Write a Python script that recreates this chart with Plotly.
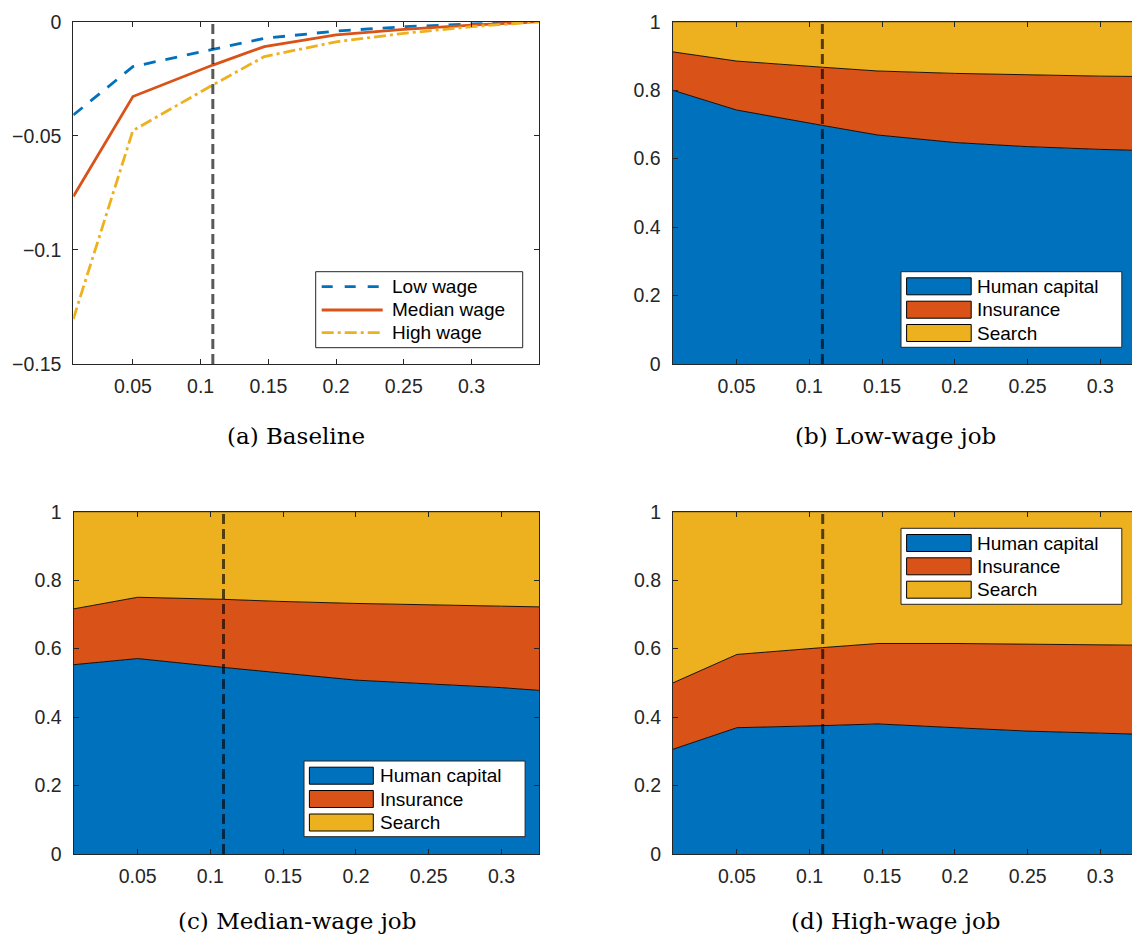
import plotly.graph_objects as go

# ---------------- data ----------------
x_base = [0.006, 0.05, 0.109, 0.147, 0.2, 0.25, 0.3, 0.35]
low_wage = [-0.0409, -0.0197, -0.0121, -0.0073, -0.0041, -0.0022, -0.0010, 0.0]
median_wage = [-0.0766, -0.0328, -0.0190, -0.0109, -0.0058, -0.0034, -0.0015, 0.0]
high_wage = [-0.1303, -0.0477, -0.0277, -0.0153, -0.0088, -0.0051, -0.0022, 0.0]

x_share = [0.006, 0.05, 0.109, 0.147, 0.2, 0.25, 0.3, 0.326]
low_hc = [0.800, 0.742, 0.697, 0.669, 0.647, 0.635, 0.627, 0.624]
low_ins = [0.112, 0.143, 0.170, 0.187, 0.202, 0.209, 0.214, 0.216]
low_search = [0.088, 0.115, 0.133, 0.144, 0.151, 0.156, 0.159, 0.160]
med_hc = [0.553, 0.571, 0.545, 0.530, 0.508, 0.497, 0.486, 0.478]
med_ins = [0.163, 0.179, 0.199, 0.208, 0.224, 0.230, 0.238, 0.244]
med_search = [0.284, 0.250, 0.256, 0.262, 0.268, 0.273, 0.276, 0.278]
high_hc = [0.306, 0.369, 0.375, 0.380, 0.369, 0.359, 0.353, 0.350]
high_ins = [0.194, 0.214, 0.228, 0.235, 0.246, 0.254, 0.258, 0.260]
high_search = [0.500, 0.417, 0.397, 0.385, 0.385, 0.387, 0.389, 0.390]

calibration_x = 0.109

x_tickvals = [0.05, 0.1, 0.15, 0.2, 0.25, 0.3]
x_ticktext = ["0.05", "0.1", "0.15", "0.2", "0.25", "0.3"]
ya_tickvals = [-0.15, -0.1, -0.05, 0]
ya_ticktext = ["\u22120.15", "\u22120.1", "\u22120.05", "0"]
ys_tickvals = [0, 0.2, 0.4, 0.6, 0.8, 1]
ys_ticktext = ["0", "0.2", "0.4", "0.6", "0.8", "1"]

line_names = ["Low wage", "Median wage", "High wage"]
share_names = ["Human capital", "Insurance", "Search"]
captions = ["(a) Baseline", "(b) Low-wage job", "(c) Median-wage job", "(d) High-wage job"]

# ---------------- style ----------------
W, H = 1132, 936
BLUE, ORANGE, YELLOW = "#0072BD", "#D95319", "#EDB120"
AX = "#262626"
SANS = "Liberation Sans, Arial, sans-serif"
SERIF = "DejaVu Serif, serif"
TICK_SIZE = 19.5
LEG_SIZE = 19


def px(x):
    return x / W


def py(y):
    return 1 - y / H


fig = go.Figure()

# panel (a) lines
fig.add_trace(go.Scatter(x=x_base, y=low_wage, name=line_names[0], mode="lines",
                         line=dict(color=BLUE, width=2.8, dash="12px,10px"),
                         xaxis="x", yaxis="y", showlegend=False))
fig.add_trace(go.Scatter(x=x_base, y=median_wage, name=line_names[1], mode="lines",
                         line=dict(color=ORANGE, width=2.8),
                         xaxis="x", yaxis="y", showlegend=False))
fig.add_trace(go.Scatter(x=x_base, y=high_wage, name=line_names[2], mode="lines",
                         line=dict(color=YELLOW, width=2.8, dash="12px,4px,3px,4px"),
                         xaxis="x", yaxis="y", showlegend=False))

# stacked area panels
share_sets = [
    ("x2", "y2", [low_hc, low_ins, low_search]),
    ("x3", "y3", [med_hc, med_ins, med_search]),
    ("x4", "y4", [high_hc, high_ins, high_search]),
]
for xa, ya, comps in share_sets:
    for name, vals, col in zip(share_names, comps, [BLUE, ORANGE, YELLOW]):
        fig.add_trace(go.Scatter(x=x_share, y=vals, name=name, mode="lines",
                                 stackgroup=xa, fillcolor=col,
                                 line=dict(color="black", width=0.9),
                                 xaxis=xa, yaxis=ya, showlegend=False))

# panel geometry (pixels)
panels = {
    "": dict(x0=73.3, x1=539.3, y0=21.7, y1=364.0, xr=[0.006, 0.35], yr=[-0.15, 0],
             yt=(ya_tickvals, ya_ticktext), ymirror="ticks"),
    "2": dict(x0=672.5, x1=1132, y0=21.7, y1=364.0, xr=[0.006, 0.3218], yr=[0, 1],
              yt=(ys_tickvals, ys_ticktext), ymirror=False),
    "3": dict(x0=73.6, x1=539.3, y0=511.7, y1=854.0, xr=[0.006, 0.326], yr=[0, 1],
              yt=(ys_tickvals, ys_ticktext), ymirror="ticks"),
    "4": dict(x0=673.0, x1=1132, y0=511.7, y1=854.0, xr=[0.006, 0.3218], yr=[0, 1],
              yt=(ys_tickvals, ys_ticktext), ymirror=False),
}

layout = dict(width=W, height=H, margin=dict(l=0, r=0, t=0, b=0, autoexpand=False),
              template="none",
              paper_bgcolor="white", plot_bgcolor="white",
              font=dict(family=SANS, size=18, color=AX))
for k, p in panels.items():
    common = dict(showline=True, linecolor=AX, linewidth=1, ticks="inside", ticklen=5,
                  tickcolor=AX, tickwidth=1, showgrid=False, zeroline=False,
                  automargin=False,
                  tickfont=dict(family=SANS, size=TICK_SIZE, color=AX))
    layout["xaxis" + k] = dict(domain=[px(p["x0"]), min(1, px(p["x1"]))], range=p["xr"],
                               anchor="y" + k, tickvals=x_tickvals, ticktext=x_ticktext,
                               mirror="ticks", ticklabelstandoff=5, **common)
    layout["yaxis" + k] = dict(domain=[py(p["y1"]), py(p["y0"])], range=p["yr"],
                               anchor="x" + k, tickvals=p["yt"][0], ticktext=p["yt"][1],
                               mirror=p["ymirror"], ticklabelstandoff=7, **common)
fig.update_layout(**layout)

# calibration dashed lines
for k in ["", "2", "3", "4"]:
    fig.add_shape(type="line", xref="x" + k, yref=("y" + k + " domain"),
                  x0=calibration_x, x1=calibration_x, y0=0, y1=1,
                  line=dict(color="rgba(0,0,0,0.65)", width=3, dash="10px,5px"),
                  layer="above")

# legends (drawn manually to match swatch geometry)
def legend_box(x0, y0, x1, y1):
    fig.add_shape(type="rect", xref="paper", yref="paper",
                  x0=px(x0), x1=px(x1), y0=py(y1), y1=py(y0),
                  fillcolor="white", line=dict(color=AX, width=1), layer="above")


def legend_text(x, y, text):
    fig.add_annotation(x=px(x), y=py(y), xref="paper", yref="paper", text=text,
                       showarrow=False, xanchor="left", yanchor="middle",
                       font=dict(family=SANS, size=LEG_SIZE, color="black"))


# panel (a)
legend_box(315.7, 271.7, 522.7, 347.7)
rows_a = [286.7, 310.0, 332.7]
styles_a = [dict(color=BLUE, width=2.8, dash="11px,12px"),
            dict(color=ORANGE, width=2.8),
            dict(color=YELLOW, width=2.8, dash="12px,4px,3px,4px")]
for name, yy, st in zip(line_names, rows_a, styles_a):
    fig.add_shape(type="line", xref="paper", yref="paper", x0=px(321.7), x1=px(382.7),
                  y0=py(yy), y1=py(yy), line=st, layer="above")
    legend_text(389.5, yy, name)

# share panels
share_legends = [
    dict(box=(901, 271.7, 1121.8, 347.3), sx=(906.6, 971.2), tx=975, rows=[286.3, 309.7, 333.0]),
    dict(box=(304, 761, 525.1, 836.7), sx=(309.4, 373.3), tx=377.5, rows=[775.7, 799.0, 822.5]),
    dict(box=(901, 528.3, 1121.8, 604.3), sx=(906.6, 971.2), tx=975, rows=[543.0, 566.3, 589.7]),
]
for lg in share_legends:
    legend_box(*lg["box"])
    for name, yy, col in zip(share_names, lg["rows"], [BLUE, ORANGE, YELLOW]):
        fig.add_shape(type="rect", xref="paper", yref="paper",
                      x0=px(lg["sx"][0]), x1=px(lg["sx"][1]),
                      y0=py(yy + 8.5), y1=py(yy - 8.5),
                      fillcolor=col, line=dict(color="black", width=1), layer="above")
        legend_text(lg["tx"], yy, name)

# captions
cap_pos = [(296, 436), (895, 436), (297, 921), (895, 921)]
for text, (cx, cy) in zip(captions, cap_pos):
    fig.add_annotation(x=px(cx), y=py(cy), xref="paper", yref="paper", text=text,
                       showarrow=False, xanchor="center", yanchor="middle",
                       font=dict(family=SERIF, size=23, color="black"))

fig.write_html("out.html", config={"displayModeBar": False},
               post_script="document.body.style.margin='0';document.body.style.overflow='hidden';")
